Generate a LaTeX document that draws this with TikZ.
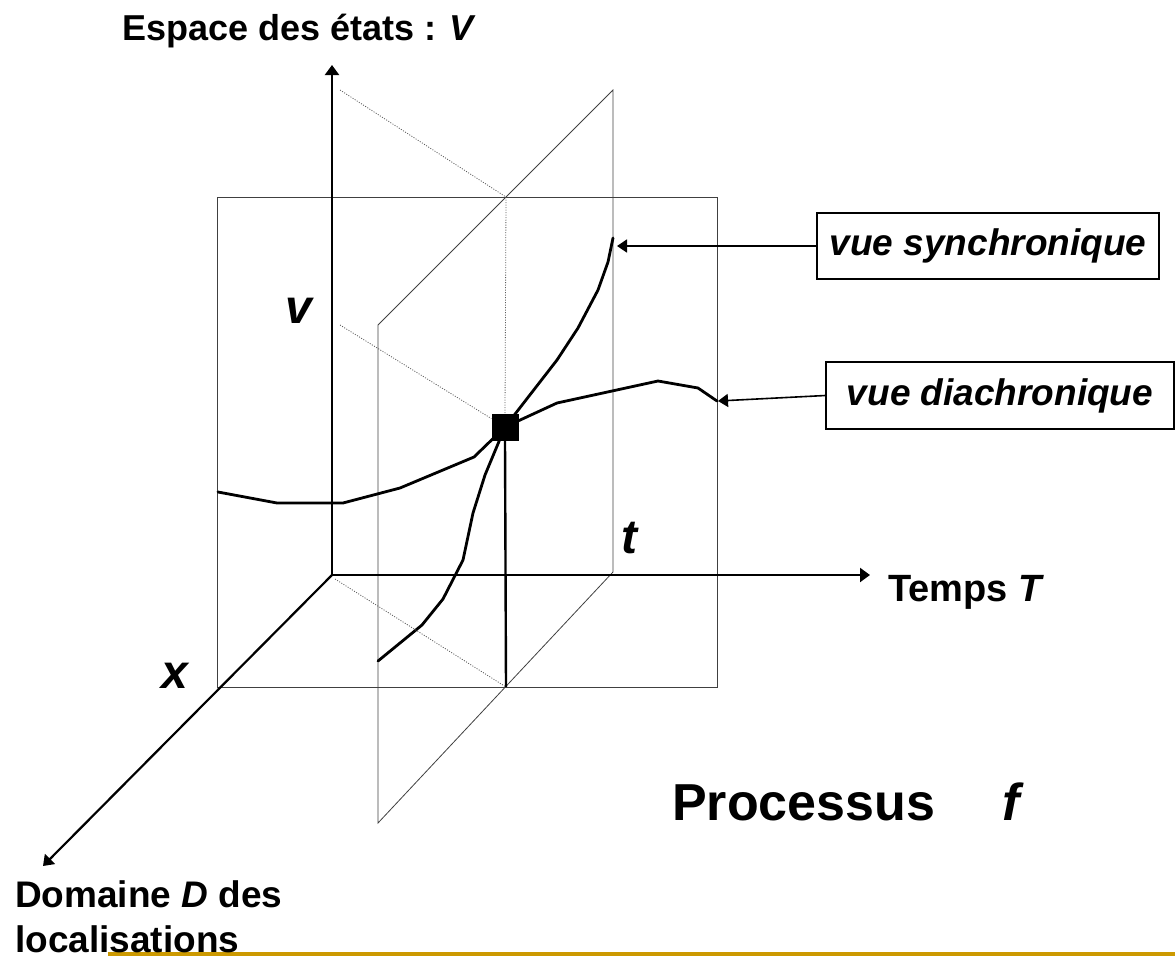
\documentclass[tikz,border=0pt]{standalone}
\usepackage{fontspec}
\setmainfont{Liberation Sans}
\usetikzlibrary{arrows.meta,positioning}
\definecolor{footrule}{RGB}{204,153,0}

\begin{document}
\begin{tikzpicture}[
  x=1pt, y=-1pt,
  planeedge/.style={line width=0.8pt, black!75},
  proj/.style={line width=0.8pt, black!65, dash pattern=on 1pt off 1.5pt},
  axis/.style={line width=2.2pt, -{Triangle[length=10pt,width=14pt]}},
  path3d/.style={line width=2.8pt, line join=round, line cap=round},
  callout/.style={line width=1.6pt, -{Triangle[length=10pt,width=13pt]}},
  viewbox/.style={draw, line width=1.5pt, inner sep=0pt,
                  font=\fontsize{37}{44}\selectfont\bfseries\itshape},
  lbl/.style={inner sep=0pt, anchor=base west,
              font=\fontsize{36}{46}\selectfont\bfseries},
  big/.style={lbl, font=\fontsize{48}{58}\selectfont\bfseries\itshape}]
\useasboundingbox (0,0) rectangle (1175,956);
\draw[line width=4pt, footrule] (108,954) -- (1175,954);

% plane x = const and plane t = const
\draw[planeedge] (217,197) rectangle (717,687);
\coordinate (ptl) at (378,325);
\coordinate (ptr) at (613,90);
\coordinate (pbr) at (613,572);
\coordinate (pbl) at (378,823);
\draw[planeedge] (ptl) -- (ptr) -- (pbr) -- (pbl) -- cycle;

% axes
\coordinate (O) at (332,575);
\coordinate (Vtip) at (332,65);
\coordinate (Ttip) at (870,575);
\coordinate (Dtip) at (43,866);
\draw[axis] (O) -- (Vtip);
\draw[axis] (O) -- (Ttip);
\draw[axis] (O) -- (Dtip);

% the two views
\coordinate (diatip) at (718,401);
\coordinate (syntip) at (617,246);
\draw[path3d] (218,492) -- (277,503) -- (343,503) -- (400,488) -- (474,457)
  -- (505,427) -- (557,403) -- (658,381) -- (698,388) -- (717,401);
\draw[path3d] (378,661) -- (422,625) -- (443,599) -- (463,560) -- (473,513)
  -- (485,475) -- (505,427) -- (557,360) -- (578,328) -- (598,290)
  -- (608,262) -- (613,238);

\node[fill=black, minimum size=27pt, inner sep=0pt] (state) at (505,427) {};

% projections
\coordinate (ctop) at (506,197);
\coordinate (cbot) at (506,687);
\coordinate (pv1) at (340,90);
\coordinate (pv2) at (340,325);
\coordinate (pv3) at (335,579);
\draw[proj] (pv1) -- (ctop);
\draw[proj] (pv2) -- (state);
\draw[proj] (pv3) -- (cbot);
\draw[proj] (ctop) -- (state.north);
\draw[line width=2.4pt] (state.south) -- (cbot);

% call-outs
\node[viewbox, minimum width=342pt, minimum height=66pt] (syn) at (988,246) {vue synchronique};
\node[viewbox, minimum width=348pt, minimum height=67pt] (dia) at (1000,395.5) {vue diachronique};
\draw[callout] (syn.west) -- (syntip);
\draw[callout] (dia.west) -- (diatip);

% labels
\node[lbl] (vlabel) at (122,40) {Espace des états : \textit{V}};
\node[lbl, font=\fontsize{38}{46}\selectfont\bfseries] (tlabel) at (888,601) {Temps \textit{T}};
\node[lbl, anchor=north west, align=left, font=\fontsize{37}{45}\selectfont\bfseries]
  (dlabel) at (15,880) {Domaine \textit{D} des\\localisations};
\node[big] (vval) at (285,323) {v};
\node[big] (xval) at (161,688) {x};
\node[big] (tval) at (621,553) {t};
\node[lbl, font=\fontsize{52}{62}\selectfont\bfseries] (proc) at (672,820) {Processus};
\node[lbl, font=\fontsize{52}{62}\selectfont\bfseries\itshape] (fval) at (1002,820) {f};
\end{tikzpicture}
\end{document}
